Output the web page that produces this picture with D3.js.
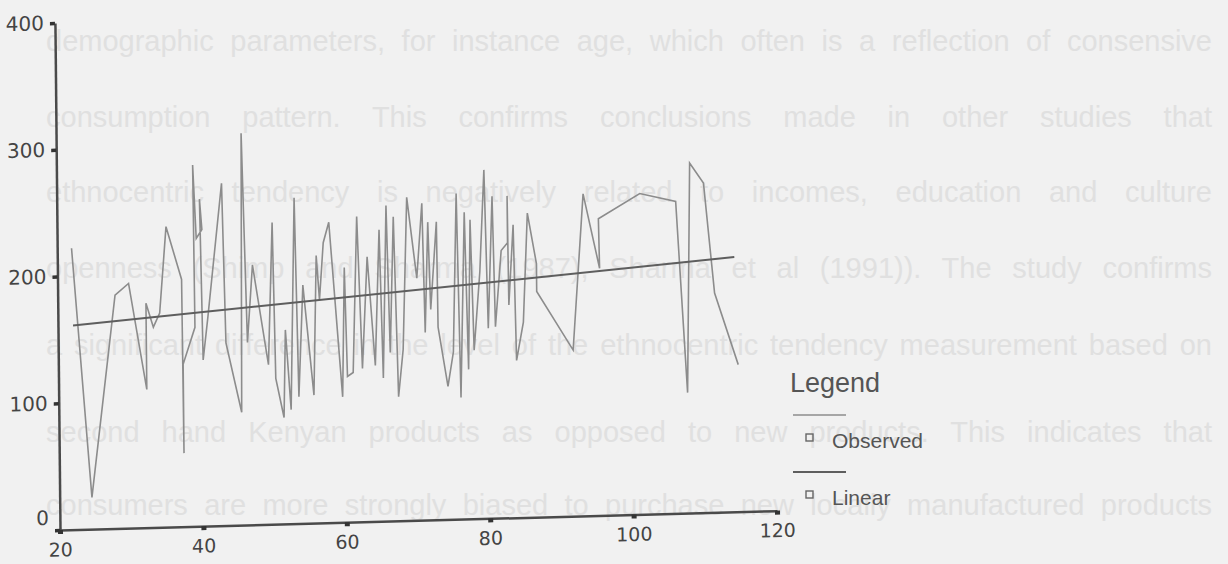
<!DOCTYPE html>
<html>
<head>
<meta charset="utf-8">
<script src="https://cdn.jsdelivr.net/npm/d3@7"></script>
<style>
  body { margin: 0; background: #f1f1f1; }
  svg { display: block; }
</style>
</head>
<body>
<div id="chart"></div>
<script>
// observed series (x = age-like value, y = score)
const obsX = [22.0, 24.5, 28.0, 29.9, 32.3, 32.3, 33.3, 34.2, 35.2, 37.3,
  37.4, 37.4, 39.1, 39.0, 39.4, 40.2, 39.9, 40.2, 40.9, 43.0,
  43.4, 45.5, 45.8, 46.4, 47.2, 49.3, 50.0, 50.3, 51.4, 51.7,
  52.4, 53.1, 53.5, 54.2, 55.6, 56.1, 56.5, 57.1, 57.9, 59.6,
  60.0, 60.3, 61.1, 61.8, 62.4, 63.2, 64.2, 64.9, 65.3, 65.9,
  66.3, 66.9, 67.4, 68.1, 68.8, 70.1, 70.9, 71.2, 71.7, 72.0,
  72.9, 73.0, 74.3, 75.1, 75.7, 76.1, 76.8, 77.2, 77.6, 78.0,
  78.9, 79.6, 80.0, 80.7, 81.0, 81.9, 82.8, 82.8, 82.9, 83.6,
  83.9, 84.9, 85.6, 86.8, 86.8, 91.8, 93.4, 95.6, 95.5, 101.3,
  106.3, 107.7, 108.3, 110.2, 111.6, 114.8];
const obsY = [222, 25, 184, 193, 109, 177, 158, 169, 237, 195,
  58, 128, 157, 285, 227, 234, 258, 131, 164, 270,
  144, 89, 309, 144, 205, 126, 238, 115, 84, 153,
  90, 257, 100, 188, 101, 211, 176, 221, 237, 99,
  201, 115, 118, 241, 121, 209, 123, 230, 113, 249,
  133, 240, 98, 135, 255, 191, 250, 148, 235, 166,
  235, 152, 105, 132, 257, 96, 242, 118, 236, 133,
  195, 275, 150, 254, 151, 211, 217, 254, 168, 231,
  124, 154, 240, 200, 178, 131, 254, 195, 234, 253,
  246, 95, 276, 260, 173, 116];

// linear fit, read at its two ends
const linX = [22.1, 114.4];
const linY = [161, 201];

const xTicks = [20, 40, 60, 80, 100, 120];
const yTicks = [0, 100, 200, 300, 400];
const legendLabels = ["Observed", "Linear"];

// faint text showing through from the scanned page
const pageLines = [
  "demographic parameters, for instance age, which often is a reflection of consensive",
  "consumption pattern. This confirms conclusions made in other studies that",
  "ethnocentric tendency is negatively related to incomes, education and culture",
  "openness (Shimp and Sharma (1987), Sharma et al (1991)). The study confirms",
  "a significant difference in the level of the ethnocentric tendency measurement based on",
  "second hand Kenyan products as opposed to new products. This indicates that",
  "consumers are more strongly biased to purchase new locally manufactured products"
];
const pageLineY = [41, 117, 192, 268, 345, 432, 505];

const W = 1228, H = 564;
const svg = d3.select("#chart").append("svg")
  .attr("width", W).attr("height", H);

svg.append("rect").attr("width", W).attr("height", H).attr("fill", "#f1f1f1");

// background page text, justified with word spacing like the printed page
const pageLeft = 46, pageWidth = 1166;
svg.append("g")
  .selectAll("text")
  .data(pageLines)
  .join("text")
  .attr("x", pageLeft)
  .attr("y", (d, i) => pageLineY[i] + 10)
  .attr("font-family", "Liberation Sans, Arial, sans-serif")
  .attr("font-size", 29)
  .attr("fill", "#e0e0e0")
  .text(d => d)
  .each(function (d) {
    const natural = this.getComputedTextLength();
    const gaps = d.split(" ").length - 1;
    if (natural < pageWidth) {
      d3.select(this).attr("word-spacing", (pageWidth - natural) / gaps);
    } else {
      d3.select(this).attr("textLength", pageWidth).attr("lengthAdjust", "spacingAndGlyphs");
    }
  });

// the scan is slightly skewed, so the plot lives in a sheared group
const plotW = 717, plotH = 507;
const g = svg.append("g")
  .attr("transform", "translate(60,530) matrix(1,-0.027,0.01,1,0,0)");

const x = d3.scaleLinear().domain([20, 120]).range([0, plotW]);
const y = d3.scaleLinear().domain([0, 400]).range([0, -plotH]);

// y axis
const yAxis = g.append("g")
  .call(d3.axisLeft(y).tickValues(yTicks).tickSize(5).tickPadding(6).tickSizeOuter(0));
yAxis.select(".domain").attr("stroke", "#4a4a4a").attr("stroke-width", 2.5);
yAxis.selectAll(".tick line").attr("stroke", "#333").attr("stroke-width", 3.5);
yAxis.selectAll(".tick text")
  .attr("font-family", "DejaVu Sans, sans-serif")
  .attr("font-size", 20)
  .attr("fill", "#444")
  .attr("dy", d => d === 0 ? "-0.3em" : "0.32em");

// x axis
const xAxis = g.append("g")
  .call(d3.axisBottom(x).tickValues(xTicks).tickSize(4).tickPadding(9).tickSizeOuter(0));
xAxis.select(".domain").attr("stroke", "#4a4a4a").attr("stroke-width", 2.5);
xAxis.selectAll(".tick line").attr("stroke", "#333").attr("stroke-width", 5);
xAxis.selectAll(".tick text")
  .attr("font-family", "DejaVu Sans, sans-serif")
  .attr("font-size", 19)
  .attr("fill", "#444");

// observed line
const obs = obsX.map((v, i) => [v, obsY[i]]);
const line = d3.line().x(d => x(d[0])).y(d => y(d[1]));
g.append("path")
  .datum(obs)
  .attr("d", line)
  .attr("fill", "none")
  .attr("stroke", "#8c8c8c")
  .attr("stroke-width", 1.6)
  .attr("stroke-linejoin", "miter");

// linear fit
g.append("path")
  .datum(linX.map((v, i) => [v, linY[i]]))
  .attr("d", line)
  .attr("fill", "none")
  .attr("stroke", "#5e5e5e")
  .attr("stroke-width", 2);

// legend
const legend = svg.append("g").attr("transform", "translate(790,0)");
legend.append("text")
  .attr("x", 0).attr("y", 392)
  .attr("font-family", "Liberation Sans, Arial, sans-serif")
  .attr("font-size", 27)
  .attr("fill", "#555")
  .text("Legend");

const items = legend.selectAll("g.item")
  .data(legendLabels)
  .join("g")
  .attr("class", "item")
  .attr("transform", (d, i) => `translate(0,${415 + i * 57})`);
items.append("line")
  .attr("x1", 3).attr("x2", 56).attr("y1", 0).attr("y2", 0)
  .attr("stroke", (d, i) => i === 0 ? "#8c8c8c" : "#5e5e5e")
  .attr("stroke-width", (d, i) => i === 0 ? 1.6 : 2);
items.append("rect")
  .attr("x", 16).attr("y", 19).attr("width", 7).attr("height", 7)
  .attr("fill", "none").attr("stroke", "#666").attr("stroke-width", 1.4);
items.append("text")
  .attr("x", 42).attr("y", 33)
  .attr("font-family", "Liberation Sans, Arial, sans-serif")
  .attr("font-size", 21)
  .attr("fill", "#555")
  .text(d => d);
</script>
</body>
</html>
